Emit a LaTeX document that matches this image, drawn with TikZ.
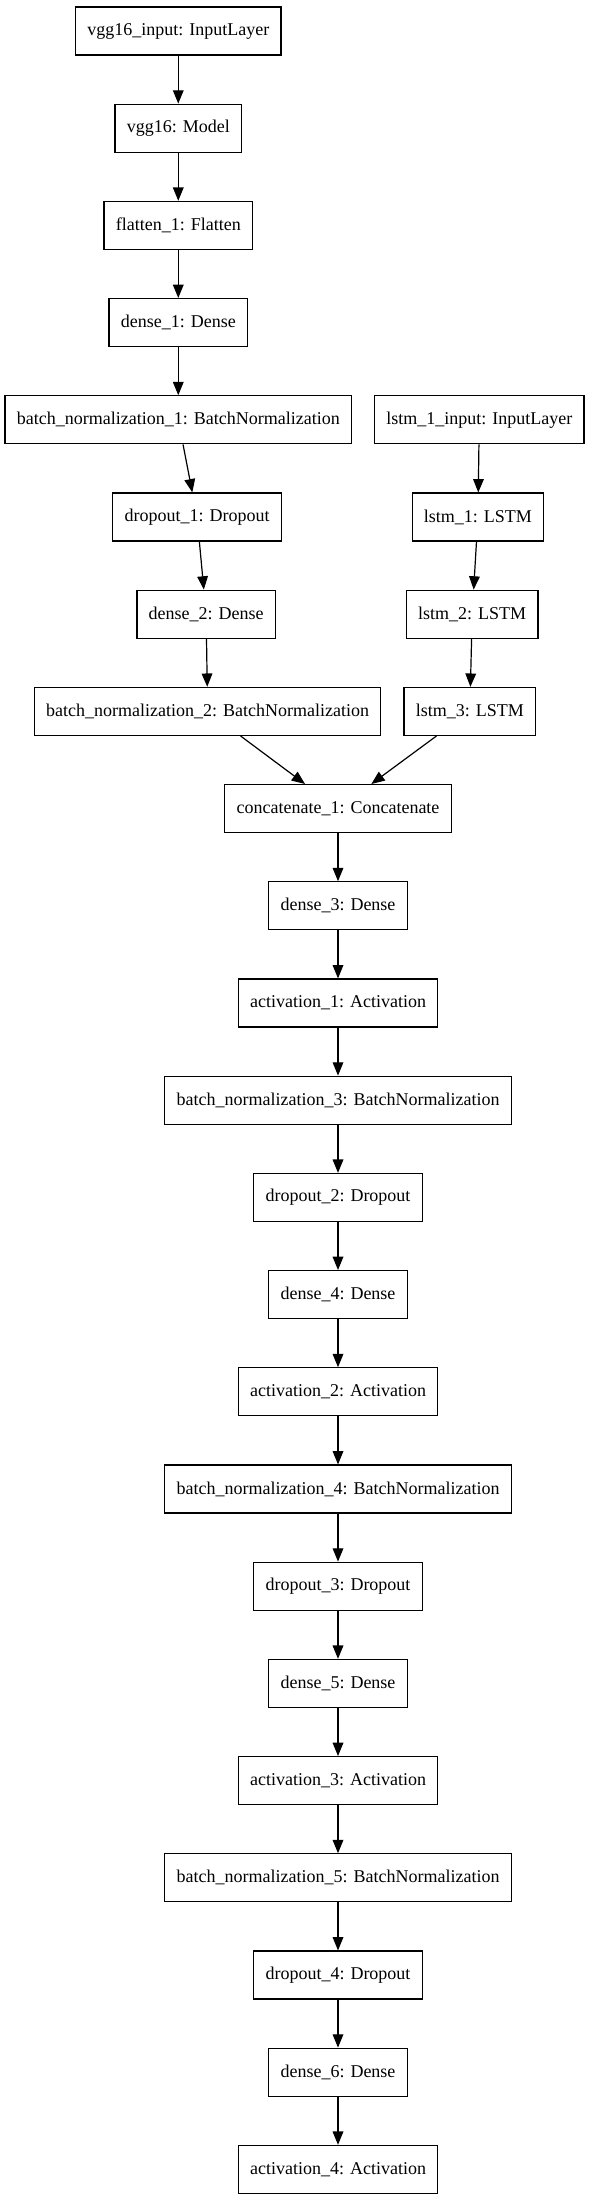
\documentclass[tikz,border=0pt]{standalone}
\usepackage{fontspec}
\setmainfont{Liberation Serif}
\usetikzlibrary{arrows.meta,positioning}

\begin{document}
\begin{tikzpicture}[
      node distance=72.9pt,
      line width=0.9pt,
      layer/.style={rectangle,draw,minimum height=36pt,inner xsep=8.8pt,font=\fontsize{13.5}{16}\selectfont},
      >={Triangle[length=10pt,width=8pt]}
    ]
    \useasboundingbox (0,0) rectangle (441.75pt,-1650.75pt);
    % image branch
    \node[layer] at (133.7pt,-23.25pt) (vggin) {vgg16\_input: InputLayer};
    \node[layer,below of=vggin] (vgg) {vgg16: Model};
    \node[layer,below of=vgg] (flat1) {flatten\_1: Flatten};
    \node[layer,below of=flat1] (dense1) {dense\_1: Dense};
    \node[layer,below of=dense1] (bn1) {batch\_normalization\_1: BatchNormalization};
    \node[layer,below of=bn1,xshift=14.1pt] (drop1) {dropout\_1: Dropout};
    \node[layer,below of=drop1,xshift=6.8pt] (dense2) {dense\_2: Dense};
    \node[layer,below of=dense2,xshift=1.1pt] (bn2) {batch\_normalization\_2: BatchNormalization};

    % sequence branch
    \node[layer,right of=bn1,node distance=225.75pt] (lstmin) {lstm\_1\_input: InputLayer};
    \node[layer,below of=lstmin,xshift=-1pt] (lstm1) {lstm\_1: LSTM};
    \node[layer,below of=lstm1,xshift=-4.3pt] (lstm2) {lstm\_2: LSTM};
    \node[layer,below of=lstm2,xshift=-1.8pt] (lstm3) {lstm\_3: LSTM};

    % merged head
    \node[layer,below of=bn2,xshift=97.8pt] (concat) {concatenate\_1: Concatenate};
    \node[layer,below of=concat] (dense3) {dense\_3: Dense};
    \node[layer,below of=dense3] (act1) {activation\_1: Activation};
    \node[layer,below of=act1] (bn3) {batch\_normalization\_3: BatchNormalization};
    \node[layer,below of=bn3] (drop2) {dropout\_2: Dropout};
    \node[layer,below of=drop2] (dense4) {dense\_4: Dense};
    \node[layer,below of=dense4] (act2) {activation\_2: Activation};
    \node[layer,below of=act2] (bn4) {batch\_normalization\_4: BatchNormalization};
    \node[layer,below of=bn4] (drop3) {dropout\_3: Dropout};
    \node[layer,below of=drop3] (dense5) {dense\_5: Dense};
    \node[layer,below of=dense5] (act3) {activation\_3: Activation};
    \node[layer,below of=act3] (bn5) {batch\_normalization\_5: BatchNormalization};
    \node[layer,below of=bn5] (drop4) {dropout\_4: Dropout};
    \node[layer,below of=drop4] (dense6) {dense\_6: Dense};
    \node[layer,below of=dense6] (act4) {activation\_4: Activation};

    \draw[->] (vggin) -- (vgg);
    \draw[->] (vgg) -- (flat1);
    \draw[->] (flat1) -- (dense1);
    \draw[->] (dense1) -- (bn1);
    \draw[->] (bn1) -- (drop1);
    \draw[->] (drop1) -- (dense2);
    \draw[->] (dense2) -- (bn2);
    \draw[->] (lstmin) -- (lstm1);
    \draw[->] (lstm1) -- (lstm2);
    \draw[->] (lstm2) -- (lstm3);
    \draw[->] (bn2) -- (concat);
    \draw[->] (lstm3) -- (concat);
    \foreach \a/\b in {concat/dense3,dense3/act1,act1/bn3,bn3/drop2,drop2/dense4,
        dense4/act2,act2/bn4,bn4/drop3,drop3/dense5,dense5/act3,act3/bn5,
        bn5/drop4,drop4/dense6,dense6/act4}
      \draw[->] (\a) -- (\b);
  \end{tikzpicture}
\end{document}
